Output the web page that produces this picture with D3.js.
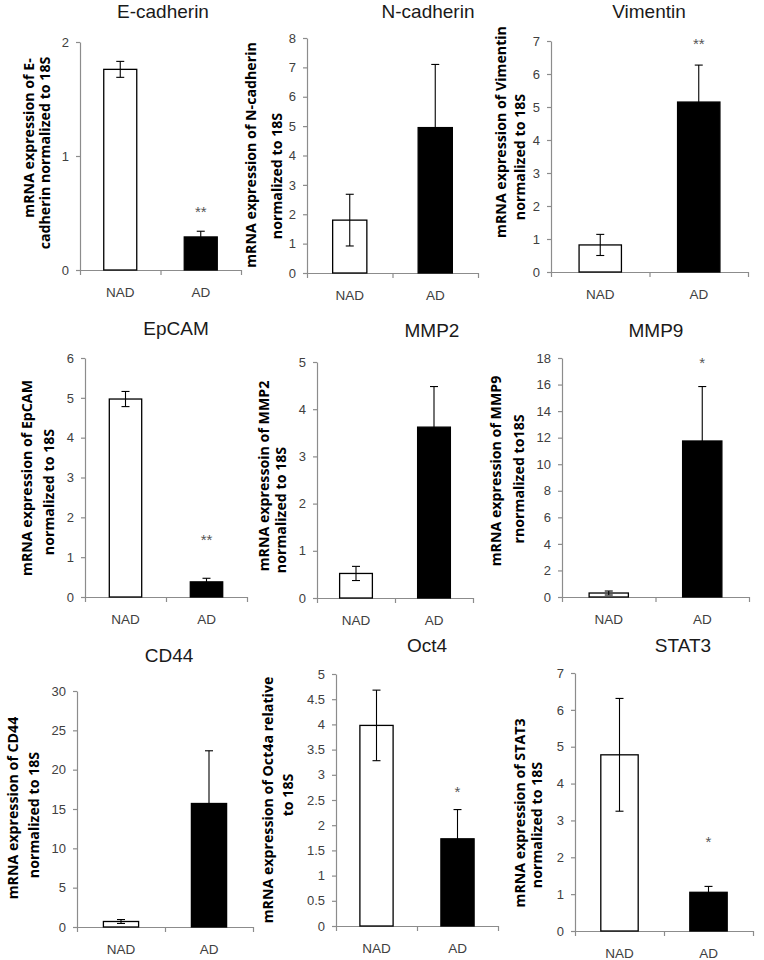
<!DOCTYPE html>
<html>
<head>
<meta charset="utf-8">
<script src="https://cdn.jsdelivr.net/npm/d3@7"></script>
<style>
  html, body { margin: 0; padding: 0; background: #fff; }
  svg { display: block; }
</style>
</head>
<body>
<svg id="chart" width="764" height="960"></svg>
<script>
// ---------------- DATA ----------------
const genes = ["E-cadherin", "N-cadherin", "Vimentin", "EpCAM", "MMP2", "MMP9", "CD44", "Oct4", "STAT3"];
const groups = ["NAD", "AD"];
const nadMean = [1.76, 1.80, 0.82, 4.97, 0.52, 0.30, 0.70, 3.98, 4.78];
const nadErr  = [0.07, 0.88, 0.32, 0.19, 0.15, 0.15, 0.25, 0.70, 1.53];
const adMean  = [0.29, 4.95, 5.15, 0.38, 3.62, 11.75, 15.7, 1.73, 1.05];
const adErr   = [0.05, 2.15, 1.12, 0.09, 0.86, 4.10, 6.70, 0.58, 0.16];
const yMax    = [2, 8, 7, 6, 5, 18, 30, 5, 7];
const yStep   = [1, 1, 1, 1, 1, 2, 5, 0.5, 1];
const sigMark = ["**", "", "**", "**", "", "*", "", "*", "*"];
const sigLevel = [0.53, null, 6.97, 1.48, null, 17.8, null, 2.7, 2.47];
const yLabel1 = [
  "mRNA expression of E-",
  "mRNA expression of N-cadherin",
  "mRNA expression of Vimentin",
  "mRNA expression of EpCAM",
  "mRNA expressoin of MMP2",
  "mRNA expression of MMP9",
  "mRNA expression of CD44",
  "mRNA expression of Oct4a relative",
  "mRNA expression of STAT3"
];
const yLabel2 = [
  "cadherin normalized to 18S",
  "normalized to 18S",
  "normalized to 18S",
  "normalized to 18S",
  "normalized to 18S",
  "rnormalized to18S",
  "normalized to 18S",
  "to 18S",
  "normalized to 18S"
];

// ---------------- LAYOUT ----------------
const frames = [
  {x0: 80,  x1: 241, yTop: 42,  yBot: 270, bw: 0.41, tx: 163, ty: 18,  l1x: 34,  l1y: 138, l2x: 50,  l2y: 153},
  {x0: 307, x1: 478, yTop: 38,  yBot: 273, bw: 0.40, tx: 428, ty: 18,  l1x: 256, l1y: 155, l2x: 282, l2y: 176},
  {x0: 551, x1: 748, yTop: 41,  yBot: 272, bw: 0.43, tx: 649, ty: 18,  l1x: 506, l1y: 132, l2x: 525, l2y: 157},
  {x0: 85,  x1: 247, yTop: 358, yBot: 597, bw: 0.40, tx: 176, ty: 335, l1x: 32,  l1y: 478, l2x: 54,  l2y: 492},
  {x0: 317, x1: 473, yTop: 362, yBot: 598, bw: 0.42, tx: 432, ty: 337, l1x: 269, l1y: 476, l2x: 286, l2y: 510},
  {x0: 562, x1: 749, yTop: 358, yBot: 597, bw: 0.42, tx: 656, ty: 337, l1x: 501, l1y: 471, l2x: 524, l2y: 479},
  {x0: 77,  x1: 253, yTop: 691, yBot: 927, bw: 0.40, tx: 169, ty: 662, l1x: 18,  l1y: 808, l2x: 39,  l2y: 815},
  {x0: 336, x1: 498, yTop: 674, yBot: 926, bw: 0.41, tx: 427, ty: 652, l1x: 273, l1y: 800, l2x: 293, l2y: 795},
  {x0: 575, x1: 753, yTop: 673, yBot: 931, bw: 0.42, tx: 683, ty: 652, l1x: 525, l1y: 813, l2x: 542, l2y: 825}
];

const svg = d3.select("#chart");
const axisColor = "#8c8c8c";
const textColor = "#404040";
const tickFont = "'Liberation Sans', Arial, sans-serif";
const labelFont = "'Open Sans', 'DejaVu Sans', sans-serif";

genes.forEach((gene, i) => {
  const f = frames[i];
  const g = svg.append("g").attr("class", "panel");

  const y = d3.scaleLinear().domain([0, yMax[i]]).range([f.yBot, f.yTop]);
  const x = d3.scaleBand().domain(groups).range([f.x0, f.x1])
    .paddingInner(1 - f.bw).paddingOuter((1 - f.bw) / 2);
  const xb = d3.scaleLinear().domain([0, groups.length]).range([f.x0, f.x1]);

  const ticks = d3.range(0, yMax[i] + yStep[i] / 2, yStep[i]);

  const yAx = g.append("g").attr("transform", `translate(${f.x0},0)`)
    .call(d3.axisLeft(y).tickValues(ticks).tickFormat(d3.format("~g")).tickSize(4).tickSizeOuter(0).tickPadding(7));
  yAx.select(".domain").attr("stroke", axisColor).attr("stroke-width", 1.2);
  yAx.selectAll(".tick line").attr("stroke", axisColor).attr("stroke-width", 1.2);
  yAx.selectAll(".tick text").attr("fill", textColor).attr("font-family", tickFont).attr("font-size", 13);

  const xAx = g.append("g").attr("transform", `translate(0,${f.yBot})`)
    .call(d3.axisBottom(xb).tickValues(d3.range(0, groups.length + 1)).tickFormat("").tickSize(5).tickSizeOuter(0));
  xAx.select(".domain").attr("stroke", axisColor).attr("stroke-width", 1.2);
  xAx.selectAll(".tick line").attr("stroke", axisColor).attr("stroke-width", 1.2);

  const xl = g.append("g").attr("transform", `translate(0,${f.yBot})`)
    .call(d3.axisBottom(x).tickSize(0).tickPadding(17));
  xl.select(".domain").remove();
  xl.selectAll(".tick text").attr("fill", textColor).attr("font-family", tickFont).attr("font-size", 13.5);

  const means = [nadMean[i], adMean[i]];
  const errs = [nadErr[i], adErr[i]];
  const rows = groups.map((k, j) => ({k, m: means[j], e: errs[j]}));

  g.selectAll("rect.bar").data(rows).enter().append("rect")
    .attr("class", "bar")
    .attr("x", d => x(d.k))
    .attr("width", x.bandwidth())
    .attr("y", d => y(d.m))
    .attr("height", d => y(0) - y(d.m))
    .attr("fill", (d, j) => j === 0 ? "#ffffff" : "#000000")
    .attr("stroke", "#000")
    .attr("stroke-width", 1.3);

  const cap = 4;
  rows.forEach(d => {
    const cx = x(d.k) + x.bandwidth() / 2;
    const eb = g.append("g").attr("stroke", "#000").attr("stroke-width", 1.1);
    eb.append("line").attr("x1", cx).attr("x2", cx).attr("y1", y(d.m - d.e)).attr("y2", y(d.m + d.e));
    eb.append("line").attr("x1", cx - cap).attr("x2", cx + cap).attr("y1", y(d.m + d.e)).attr("y2", y(d.m + d.e));
    eb.append("line").attr("x1", cx - cap).attr("x2", cx + cap).attr("y1", y(d.m - d.e)).attr("y2", y(d.m - d.e));
  });

  if (sigMark[i]) {
    g.append("text")
      .attr("x", x("AD") + x.bandwidth() / 2)
      .attr("y", y(sigLevel[i]) + 7)
      .attr("text-anchor", "middle")
      .attr("font-family", tickFont)
      .attr("font-size", 15)
      .attr("fill", "#555")
      .text(sigMark[i]);
  }

  g.append("text")
    .attr("x", f.tx).attr("y", f.ty)
    .attr("text-anchor", "middle")
    .attr("font-family", tickFont)
    .attr("font-size", 19)
    .attr("fill", "#1a1a1a")
    .text(gene);

  [[yLabel1[i], f.l1x, f.l1y], [yLabel2[i], f.l2x, f.l2y]].forEach(([t, lx, ly]) => {
    g.append("text")
      .attr("transform", `translate(${lx},${ly}) rotate(-90)`)
      .attr("text-anchor", "middle")
      .attr("font-family", labelFont)
      .attr("font-weight", "bold")
      .attr("font-size", 14.2)
      .attr("fill", "#000")
      .text(t);
  });
});
</script>
</body>
</html>
